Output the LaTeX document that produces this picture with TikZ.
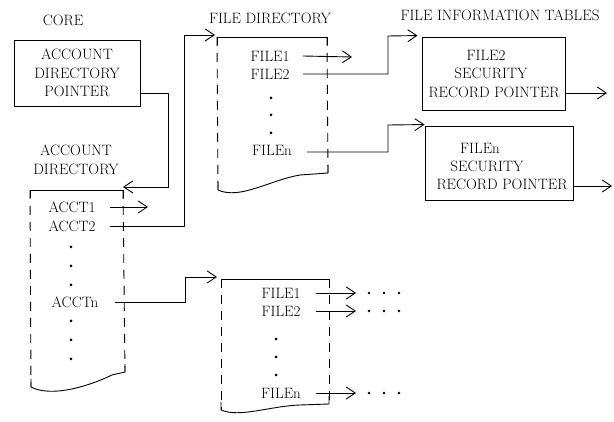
\documentclass[tikz,border=0pt]{standalone}
\usetikzlibrary{arrows.meta}
\begin{document}
\begin{tikzpicture}[x=1pt,y=-1pt,
  every node/.style={font=\fontsize{15}{18.5}\selectfont},
  txt/.style={inner sep=1pt},
  box/.style={draw, line width=0.9pt, inner sep=0pt},
  rim/.style={line width=0.9pt},
  side/.style={line width=0.9pt, dash pattern=on 9pt off 7pt},
  ptr/.style={line width=0.9pt, -{Straight Barb[length=9pt,width=12pt]}},
  vdot/.style={circle, fill, inner sep=0pt, minimum size=3pt}]

\useasboundingbox (0,0) rectangle (614,422);

% ---------- headings ----------
\node[txt] (corelbl) at (63,20) {CORE};
\node[txt] (fdlbl) at (270,18) {FILE DIRECTORY};
\node[txt] (fitlbl) at (500,15) {FILE INFORMATION TABLES};
\node[txt, align=center] (adlbl) at (76,160) {ACCOUNT\\DIRECTORY};

% ---------- core pointer box ----------
\node[box, minimum width=126pt, minimum height=66pt, align=center]
  (core) at (77,73) {ACCOUNT\\DIRECTORY\\POINTER};

% ---------- account directory ----------
\coordinate (ad-tl) at (30,190);
\coordinate (ad-tr) at (123,190);
\coordinate (ad-bl) at (31,387);
\coordinate (ad-br) at (125,372);
\draw[rim] ([yshift=-8pt]ad-tl) -- (ad-tl) -- (ad-tr) -- ([yshift=-8pt]ad-tr);
\draw[side] (ad-tl) -- (ad-bl);
\draw[side] (ad-tr) -- (ad-br);
\draw[rim] ([yshift=8pt]ad-bl) -- (ad-bl)
  .. controls (50,397) and (85,388) .. (112,375) -- (ad-br) -- ([yshift=8pt]ad-br);

\node[txt] (acct1) at (72,207) {ACCT1};
\node[txt] (acct2) at (72,226) {ACCT2};
\node[vdot] (ad-d1) at (71,247) {};
\node[vdot] (ad-d2) at (71,266) {};
\node[vdot] (ad-d3) at (71,285) {};
\node[txt] (acctn) at (75,302) {ACCTn};
\node[vdot] (ad-d4) at (71,321) {};
\node[vdot] (ad-d5) at (71,340) {};
\node[vdot] (ad-d6) at (71,359) {};

% ---------- file directory (ACCT2) ----------
\coordinate (fa-tl) at (217,37);
\coordinate (fa-tr) at (327,37);
\coordinate (fa-bl) at (218,190);
\coordinate (fa-br) at (328,173);
\draw[rim] ([yshift=-8pt]fa-tl) -- (fa-tl) -- (fa-tr) -- ([yshift=-8pt]fa-tr);
\draw[side] (fa-tl) -- (fa-bl);
\draw[side] (fa-tr) -- (fa-br);
\draw[rim] ([yshift=8pt]fa-bl) -- (fa-bl)
  .. controls (240,200) and (270,180) .. (300,175) -- (fa-br) -- ([yshift=8pt]fa-br);

\node[txt] (fa1) at (270,56) {FILE1};
\node[txt] (fa2) at (270,74) {FILE2};
\node[vdot] (fa-d1) at (271,98) {};
\node[vdot] (fa-d2) at (271,115) {};
\node[vdot] (fa-d3) at (271,133) {};
\node[txt] (fan) at (272,150) {FILEn};

% ---------- file directory (ACCTn) ----------
\coordinate (fb-tl) at (221,279);
\coordinate (fb-tr) at (329,279);
\coordinate (fb-bl) at (221,410);
\coordinate (fb-br) at (329,404);
\draw[rim] ([yshift=-8pt]fb-tl) -- (fb-tl) -- (fb-tr) -- ([yshift=-8pt]fb-tr);
\draw[side] (fb-tl) -- (fb-bl);
\draw[side] (fb-tr) -- (fb-br);
\draw[rim] ([yshift=8pt]fb-bl) -- (fb-bl)
  .. controls (240,418) and (270,406) .. (300,405) -- (fb-br) -- ([yshift=8pt]fb-br);

\node[txt] (fb1) at (281,293) {FILE1};
\node[txt] (fb2) at (281,311) {FILE2};
\node[vdot] (fb-d1) at (276,339) {};
\node[vdot] (fb-d2) at (276,357) {};
\node[vdot] (fb-d3) at (276,375) {};
\node[txt] (fbn) at (281,393) {FILEn};

% ---------- file information tables ----------
\node[box, minimum width=143pt, minimum height=73pt] (fi2) at (493.5,73.5) {};
\node[txt] (fi2-a) at (486,55) {FILE2};
\node[txt] (fi2-b) at (491,73) {SECURITY};
\node[txt] (fi2-c) at (494,92) {RECORD POINTER};

\node[box, minimum width=148pt, minimum height=74pt] (fin) at (499,163) {};
\node[txt] (fin-a) at (480,148) {FILEn};
\node[txt] (fin-b) at (487,166) {SECURITY};
\node[txt] (fin-c) at (502,184) {RECORD POINTER};

% ---------- start columns of the links ----------
\coordinate (s-ad) at (110,0);
\coordinate (s-adn) at (115,0);
\coordinate (s-fa) at (303,0);
\coordinate (s-fan) at (307,0);
\coordinate (s-fb) at (316,0);

% ---------- pointers ----------
\coordinate (k-core) at (168,187);
\draw[ptr] ([yshift=-20pt]core.east) -| (k-core) -- ([yshift=3pt]ad-tr);

\coordinate (e-acct1) at (148,207);
\draw[ptr] (acct1 -| s-ad) -- (e-acct1);

\coordinate (k-acct2) at (184,35);
\draw[ptr] (acct2 -| s-ad) -| (k-acct2) -- ([xshift=-2pt,yshift=2pt]fa-tl);

\coordinate (k-acctn) at (185,277);
\draw[ptr] (acctn -| s-adn) -| (k-acctn) -- ([xshift=-4pt,yshift=2pt]fb-tl);

\coordinate (e-fa1) at (352,57);
\draw[ptr] (fa1 -| s-fa) -- (e-fa1);

\coordinate (k-fa2) at (388,36);
\draw[ptr] (fa2 -| s-fa) -| (k-fa2) -- ([xshift=-4pt,yshift=1pt]fi2.north west);

\coordinate (k-fan) at (388,125);
\draw[ptr] ([yshift=-2pt]fan -| s-fan) -| (k-fan) -- ([yshift=1pt]fin.north west);

\coordinate (e-fi2) at (607,93);
\draw[ptr] (fi2.east |- e-fi2) -- (e-fi2);
\coordinate (e-fin) at (612,186);
\draw[ptr] (fin.east |- e-fin) -- (e-fin);

% links leaving the lower directory, each trailing off
\foreach \n in {fb1, fb2, fbn} {
  \coordinate (e-\n) at ([xshift=40pt]\n -| s-fb);
  \draw[ptr] (\n -| s-fb) -- (e-\n);
  \foreach \dx in {13,28,43} \fill ([xshift=\dx pt]e-\n) circle (1.4pt);
}
\end{tikzpicture}
\end{document}
